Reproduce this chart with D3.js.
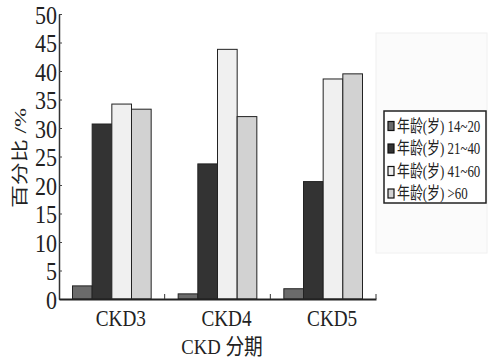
<!DOCTYPE html>
<html>
<head>
<meta charset="utf-8">
<script src="https://cdn.jsdelivr.net/npm/d3@7"></script>
<style>
  body { margin: 0; background: #fff; }
  text { font-family: "Liberation Serif", "Noto Sans CJK SC", serif; fill: #222; }
</style>
</head>
<body>
<div id="chart"></div>
<script>
'use strict';

/*** Data */
const stages = ["CKD3", "CKD4", "CKD5"];
const groups = ["年龄(岁) 14~20", "年龄(岁) 21~40", "年龄(岁) 41~60", "年龄(岁) >60"];
const age14to20 = [2.3, 0.9, 1.8];
const age21to40 = [30.7, 23.7, 20.6];
const age41to60 = [34.2, 43.8, 38.6];
const ageOver60 = [33.3, 32.0, 39.5];
const yTicks = [0, 5, 10, 15, 20, 25, 30, 35, 40, 45, 50];

const series = [age14to20, age21to40, age41to60, ageOver60];
const fills = ["#6b6b6b", "#333333", "#f0f0f0", "#d2d2d2"];

/** Dimensions */
const w = 497;
const h = 364;
const plotLeft = 59, plotRight = 376, plotTop = 14, plotBottom = 299;

const svg = d3.select("#chart")
    .append("svg")
    .attr("width", w)
    .attr("height", h);

// faint frame of the original chart area
svg.append("rect")
    .attr("x", plotRight).attr("y", 33)
    .attr("width", 111).attr("height", 220)
    .attr("fill", "#fbfbfb")
    .attr("stroke", "#f0f0f0");

/** Scales */
const xScale = d3.scaleBand().domain(stages).range([plotLeft, plotRight]);
const subScale = d3.scaleBand().domain(d3.range(4))
    .range([13.5, xScale.bandwidth() - 13.5]);
const yScale = d3.scaleLinear().domain([0, 50]).range([plotBottom, plotTop]);

/** Bars */
series.forEach((vals, i) => {
    svg.append("g").selectAll("rect")
        .data(vals)
        .enter()
        .append("rect")
        .attr("x", (d, j) => xScale(stages[j]) + subScale(i))
        .attr("y", d => yScale(d))
        .attr("width", subScale.bandwidth())
        .attr("height", d => yScale(0) - yScale(d))
        .attr("fill", fills[i])
        .attr("stroke", "#222")
        .attr("stroke-width", 1);
});

/** Y axis */
const yAxis = d3.axisLeft(yScale)
    .tickValues(yTicks)
    .tickSizeInner(-3)
    .tickSizeOuter(0)
    .tickPadding(3);

const gy = svg.append("g")
    .attr("transform", "translate(" + plotLeft + ",0)")
    .call(yAxis);
gy.select(".domain").attr("stroke", "#333").attr("stroke-width", 1.5);
gy.selectAll(".tick line").attr("stroke", "#444");
gy.selectAll(".tick text")
    .attr("font-size", 25)
    .attr("fill", "#222")
    .attr("transform", "scale(0.88,1)")
    .attr("x", -2 / 0.88)
    .attr("dy", "0.36em");

/** X axis */
const xAxis = d3.axisBottom(xScale).tickSize(0).tickPadding(10);
const gx = svg.append("g")
    .attr("transform", "translate(0," + plotBottom + ")")
    .call(xAxis);
gx.select(".domain").attr("stroke", "#222").attr("stroke-width", 2);
gx.selectAll(".tick text")
    .attr("font-size", 24)
    .attr("fill", "#222")
    .attr("dy", "0.7em")
    .attr("transform", "translate(9,0) scale(0.8,1)");

// boundary ticks at band edges
gx.selectAll(".edge")
    .data(stages)
    .enter()
    .append("line")
    .attr("x1", d => xScale(d) + xScale.bandwidth())
    .attr("x2", d => xScale(d) + xScale.bandwidth())
    .attr("y1", 0).attr("y2", -5)
    .attr("stroke", "#333");

/** Axis titles */
svg.append("text")
    .attr("transform", "translate(26,158) rotate(-90) scale(1,0.72)")
    .attr("text-anchor", "middle")
    .attr("font-size", 23)
    .text("百分比 /%");

svg.append("text")
    .attr("transform", "translate(222,354) scale(0.85,1)")
    .attr("text-anchor", "middle")
    .attr("font-size", 22)
    .text("CKD 分期");

/** Legend */
const legend = svg.append("g").attr("transform", "translate(384,111)");
legend.append("rect")
    .attr("width", 102).attr("height", 92)
    .attr("fill", "#fff")
    .attr("stroke", "#222")
    .attr("stroke-width", 1.5);

const items = legend.selectAll(".item")
    .data(groups)
    .enter()
    .append("g")
    .attr("transform", (d, i) => "translate(0," + (15 + i * 22.5) + ")");

items.append("rect")
    .attr("x", 4).attr("y", -4.5)
    .attr("width", 6).attr("height", 9)
    .attr("fill", (d, i) => fills[i])
    .attr("stroke", "#111")
    .attr("stroke-width", 1.2);

items.append("text")
    .attr("transform", "translate(13,0) scale(0.76,1)")
    .attr("dy", "0.35em")
    .attr("font-size", 17)
    .text(d => d);
</script>
</body>
</html>
